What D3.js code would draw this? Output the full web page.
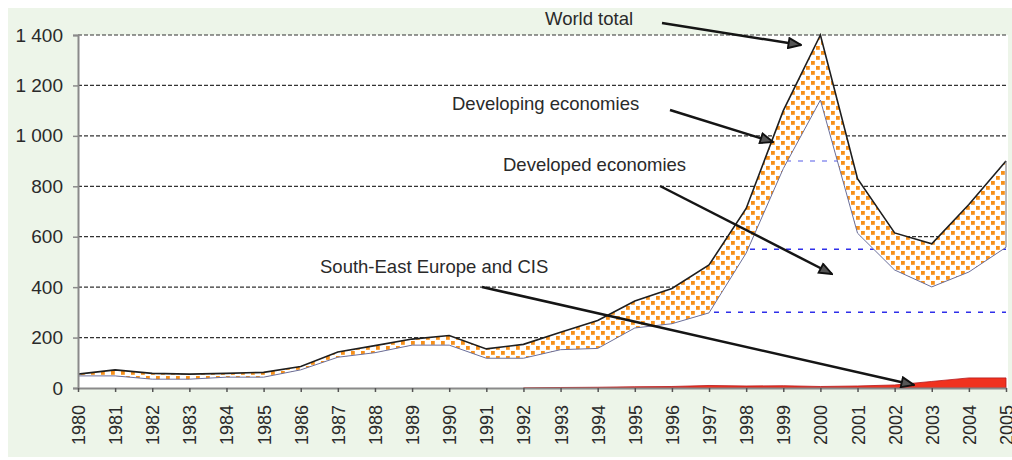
<!DOCTYPE html>
<html>
<head>
<meta charset="utf-8">
<script src="https://cdn.jsdelivr.net/npm/d3@7"></script>
<style>
  body { margin:0; background:#fff; }
  text { font-family: "Liberation Sans", Arial, sans-serif; fill:#2a2a2a; }
</style>
</head>
<body>
<div id="chart"></div>
<script>
var width = 1012, height = 460;

// FDI inflows, billions of dollars
var years = [1980,1981,1982,1983,1984,1985,1986,1987,1988,1989,1990,1991,1992,
             1993,1994,1995,1996,1997,1998,1999,2000,2001,2002,2003,2004,2005];
var worldTotal = [55,72,58,55,58,62,85,143,168,194,208,155,173,
                  221,268,345,395,488,712,1100,1400,830,615,572,728,900];
var developed = [48,48,35,35,43,43,72,122,140,170,170,118,118,
                 152,157,238,255,298,535,870,1142,614,468,401,460,558];
var seeCis = [0,0,0,0,0,0,0,0,0,0,0,0,0,
              2,3,5,6,10,8,9,6,8,12,26,40,40];
var yTicks = [0,200,400,600,800,1000,1200,1400];
var innerLines = [300,550,900]; // blue dashed lines seen inside developed area

var rows = years.map(function(y,i) {
  return {year:y, world:worldTotal[i], dev:developed[i], see:seeCis[i]};
});

var svg = d3.select("#chart").append("svg")
  .attr("width", width)
  .attr("height", height);

var xScale = d3.scaleLinear().domain([1980,2005]).range([78,1006]);
var yScale = d3.scaleLinear().domain([0,1400]).range([388,35]);

var defs = svg.append("defs");
var pat = defs.append("pattern")
  .attr("id","dots")
  .attr("patternUnits","userSpaceOnUse")
  .attr("width",10)
  .attr("height",10);
pat.append("rect").attr("width",10).attr("height",10).attr("fill","#fff");
pat.append("rect").attr("x",1).attr("y",1).attr("width",3.8).attr("height",3.8).attr("fill","#f7901a");
pat.append("rect").attr("x",6).attr("y",6).attr("width",3.8).attr("height",3.8).attr("fill","#f7901a");

var devArea = d3.area()
  .x(function(d){ return xScale(d.year); })
  .y0(yScale(0))
  .y1(function(d){ return yScale(d.dev); });

defs.append("clipPath").attr("id","devClip")
  .append("path").attr("d", devArea(rows));

var mk = defs.append("marker")
  .attr("id","arrow")
  .attr("viewBox","0 0 12 10")
  .attr("refX",11).attr("refY",5)
  .attr("markerWidth",6).attr("markerHeight",5)
  .attr("markerUnits","strokeWidth")
  .attr("orient","auto");
mk.append("path").attr("d","M1,1 L11,5 L1,9 Z")
  .attr("fill","#555").attr("stroke","#111").attr("stroke-width",1.5);

//background
svg.append("rect")
  .attr("x",8).attr("y",8)
  .attr("width",1004).attr("height",449)
  .attr("fill","#edf5e9");

svg.append("rect")
  .attr("x",xScale(1980)).attr("y",yScale(1400))
  .attr("width",1008-xScale(1980)).attr("height",yScale(0)-yScale(1400))
  .attr("fill","#fff");

//gridlines
svg.append("g").selectAll("line")
  .data(yTicks.filter(function(v){ return v > 0; }))
  .enter().append("line")
  .attr("x1",xScale(1980)).attr("x2",1008)
  .attr("y1",function(d){ return yScale(d); })
  .attr("y2",function(d){ return yScale(d); })
  .attr("stroke","#333")
  .attr("stroke-width",1.2)
  .attr("stroke-dasharray","4,2");

// developed economies area (white, covers the grid)
svg.append("path")
  .attr("d", devArea(rows))
  .attr("fill","#fff");

svg.append("g").attr("clip-path","url(#devClip)")
  .selectAll("line")
  .data(innerLines)
  .enter().append("line")
  .attr("x1",xScale(1980)).attr("x2",1008)
  .attr("y1",function(d){ return yScale(d); })
  .attr("y2",function(d){ return yScale(d); })
  .attr("stroke",function(d){ return d == 900 ? "#8f92f0" : "#2f2fea"; })
  .attr("stroke-width",1.5)
  .attr("stroke-dasharray","5,7");

// developing economies band
var band = d3.area()
  .x(function(d){ return xScale(d.year); })
  .y0(function(d){ return yScale(d.dev); })
  .y1(function(d){ return yScale(d.world); });

svg.append("path")
  .attr("d", band(rows))
  .attr("fill","url(#dots)");

// South-East Europe and CIS
var seeArea = d3.area()
  .x(function(d){ return xScale(d.year); })
  .y0(yScale(0))
  .y1(function(d){ return yScale(d.see); });

svg.append("path")
  .attr("d", seeArea(rows.filter(function(d){ return d.year >= 1992; })))
  .attr("fill","#f0321f")
  .attr("stroke","#b5161a")
  .attr("stroke-width",0.8);

var devLine = d3.line()
  .x(function(d){ return xScale(d.year); })
  .y(function(d){ return yScale(d.dev); });
var worldLine = d3.line()
  .x(function(d){ return xScale(d.year); })
  .y(function(d){ return yScale(d.world); });

svg.append("path")
  .attr("d", devLine(rows))
  .attr("fill","none")
  .attr("stroke","#6b6f9a")
  .attr("stroke-width",1);

svg.append("path")
  .attr("d", worldLine(rows))
  .attr("fill","none")
  .attr("stroke","#1e1e1e")
  .attr("stroke-width",1.6);

// right edge of the band at 2005
svg.append("line")
  .attr("x1",xScale(2005)).attr("x2",xScale(2005))
  .attr("y1",yScale(developed[25])).attr("y2",yScale(worldTotal[25]))
  .attr("stroke","#777").attr("stroke-width",1);

//axes
var fmt = d3.formatLocale({decimal:".", thousands:"\u00a0", grouping:[3], currency:["",""]}).format(",");

var yAxis = svg.append("g")
  .attr("transform","translate(" + xScale(1980) + ",0)")
  .call(d3.axisLeft(yScale).tickValues(yTicks).tickFormat(fmt).tickSize(5).tickPadding(10));
yAxis.select(".domain").attr("stroke","#8a8a8a").attr("stroke-width",2);
yAxis.selectAll(".tick line").attr("stroke","#8a8a8a").attr("stroke-width",1.5);
yAxis.selectAll("text").style("font-size","19px").attr("fill","#2a2a2a");

var xAxis = svg.append("g")
  .attr("transform","translate(0," + yScale(0) + ")")
  .call(d3.axisBottom(xScale).tickValues(years).tickFormat(d3.format("d")).tickSize(4).tickSizeOuter(0));
xAxis.select(".domain").attr("stroke","#8a8a8a").attr("stroke-width",2);
xAxis.selectAll(".tick line").attr("stroke","#555").attr("stroke-width",1.5);
xAxis.selectAll("text")
  .style("font-size","18px")
  .attr("fill","#2a2a2a")
  .attr("transform","rotate(-90)")
  .attr("x",-17)
  .attr("y",0)
  .attr("dy","0.36em")
  .style("text-anchor","end");

//annotations
var notes = [
  {t:"World total", x:545, y:25, ax:[662,23], ab:[801,45]},
  {t:"Developing economies", x:452, y:110, ax:[670,110], ab:[773,142]},
  {t:"Developed economies", x:503, y:171, ax:[660,186], ab:[832,274]},
  {t:"South-East Europe and CIS", x:320, y:273, ax:[482,287], ab:[914,385]}
];

notes.forEach(function(n) {
  svg.append("text")
    .attr("x",n.x).attr("y",n.y)
    .text(n.t)
    .style("font-size","18.5px");

  svg.append("line")
    .attr("x1",n.ax[0]).attr("y1",n.ax[1])
    .attr("x2",n.ab[0]).attr("y2",n.ab[1])
    .attr("stroke","#151515")
    .attr("stroke-width",2.5)
    .attr("marker-end","url(#arrow)");
});
</script>
</body>
</html>
